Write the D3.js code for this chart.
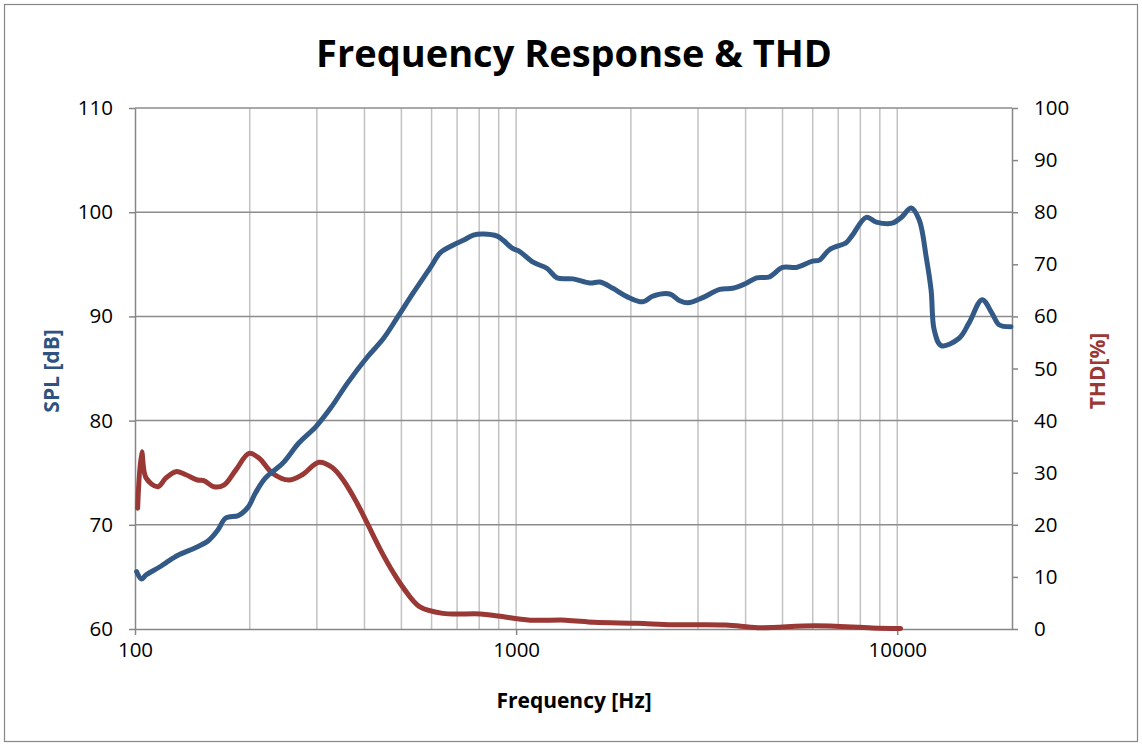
<!DOCTYPE html>
<html>
<head>
<meta charset="utf-8">
<script src="https://cdn.jsdelivr.net/npm/d3@7"></script>
<style>
  body { margin: 0; background: #fff; }
  text { font-family: 'Open Sans', sans-serif; }
</style>
</head>
<body>
<div id="chart"></div>
<script>
// SPL curve (Hz, dB)
const splFreq = [101, 104, 107, 116, 121, 130, 144, 156, 165, 173, 187, 198, 207, 220, 244, 269, 298, 326, 361, 407, 449, 488, 538, 596, 632, 684, 727, 772, 820, 892, 925, 976, 1024, 1108, 1206, 1280, 1410, 1562, 1660, 1794, 1953, 2150, 2284, 2530, 2688, 2821, 3087, 3420, 3700, 4025, 4274, 4624, 5000, 5440, 5991, 6248, 6637, 7355, 7625, 8294, 8810, 9703, 10245, 10880, 11420, 11910, 12270, 12500, 13040, 14530, 15440, 16700, 17730, 18490, 19880];
const splDb = [65.5, 64.8, 65.2, 65.95, 66.4, 67.1, 67.8, 68.5, 69.5, 70.65, 70.9, 71.7, 73.05, 74.5, 75.9, 77.85, 79.4, 81.2, 83.6, 86.1, 87.9, 89.9, 92.3, 94.7, 96.1, 96.85, 97.3, 97.8, 97.9, 97.7, 97.3, 96.55, 96.2, 95.2, 94.6, 93.7, 93.6, 93.2, 93.3, 92.7, 91.9, 91.4, 91.95, 92.15, 91.5, 91.3, 91.8, 92.6, 92.7, 93.2, 93.7, 93.8, 94.7, 94.7, 95.3, 95.4, 96.4, 97.1, 97.8, 99.5, 99.05, 98.95, 99.5, 100.4, 99.25, 95.7, 92.5, 88.7, 87.2, 87.9, 89.4, 91.6, 90.3, 89.2, 89.0];

// THD curve (Hz, %)
const thdFreq = [101.6, 104.1, 106.9, 114.7, 120.6, 128, 136, 145.9, 151.5, 161, 171, 183.8, 199.2, 211.5, 229.4, 253.4, 274.8, 303.7, 329.3, 353.1, 382.8, 406.7, 440.6, 477.3, 507, 558, 642, 805, 897, 1088, 1349, 1603, 2075, 2574, 3554, 4316, 6089, 8598, 10206];
const thdPct = [23.2, 34.0, 29.0, 27.3, 29.0, 30.2, 29.6, 28.6, 28.5, 27.3, 27.6, 30.5, 33.7, 32.8, 29.9, 28.6, 29.6, 32.0, 31.0, 28.4, 24.1, 20.3, 15.2, 10.7, 7.8, 4.3, 3.0, 2.9, 2.5, 1.7, 1.7, 1.3, 1.1, 0.83, 0.77, 0.26, 0.64, 0.2, 0.1];

const xMajor = [100, 1000, 10000];
const xGrid = [200, 300, 400, 500, 600, 700, 800, 900, 1000, 2000, 3000, 4000, 5000, 6000, 7000, 8000, 9000, 10000];
const splTicks = [60, 70, 80, 90, 100, 110];
const thdTicks = [0, 10, 20, 30, 40, 50, 60, 70, 80, 90, 100];

const W = 1142, H = 746;
const m = {left: 135, right: 1012, top: 108, bottom: 629};
const blue = '#335a86', red = '#993835';
const axisGray = '#868686';

const svg = d3.select('#chart').append('svg')
  .attr('width', W).attr('height', H);

svg.append('rect')
  .attr('x', 4.5).attr('y', 4.5)
  .attr('width', W - 9).attr('height', H - 9)
  .attr('fill', '#fff').attr('stroke', axisGray).attr('stroke-width', 1.2);

const x = d3.scaleLog().domain([100, 20000]).range([m.left, m.right]);
const y = d3.scaleLinear().domain([60, 110]).range([m.bottom, m.top]);
const y2 = d3.scaleLinear().domain([0, 100]).range([m.bottom, m.top]);

// vertical grid
svg.append('g').selectAll('line').data(xGrid).enter().append('line')
  .attr('x1', d => x(d)).attr('x2', d => x(d))
  .attr('y1', m.top).attr('y2', m.bottom)
  .attr('stroke', '#c2c2c2').attr('stroke-width', 1.5);

// horizontal grid
svg.append('g').selectAll('line').data(splTicks.slice(1)).enter().append('line')
  .attr('x1', m.left).attr('x2', m.right)
  .attr('y1', d => y(d)).attr('y2', d => y(d))
  .attr('stroke', '#8c8c8c').attr('stroke-width', 1.5);

// axes
const gx = svg.append('g').attr('transform', `translate(0,${m.bottom})`)
  .call(d3.axisBottom(x).tickValues(xMajor).tickFormat(d3.format('d'))
    .tickSize(6).tickSizeOuter(0).tickPadding(5));
const gl = svg.append('g').attr('transform', `translate(${m.left},0)`)
  .call(d3.axisLeft(y).tickValues(splTicks).tickSize(6).tickSizeOuter(0).tickPadding(16));
const gr = svg.append('g').attr('transform', `translate(${m.right},0)`)
  .call(d3.axisRight(y2).tickValues(thdTicks).tickSize(6).tickSizeOuter(0).tickPadding(16));

[gx, gl, gr].forEach(g => {
  g.select('.domain').attr('stroke', axisGray).attr('stroke-width', 1.5);
  g.selectAll('.tick line').attr('stroke', axisGray).attr('stroke-width', 1.5);
  g.selectAll('.tick text').attr('fill', '#000')
    .style('font-family', "'Open Sans', sans-serif").style('font-size', '20.5px');
});
gx.selectAll('.tick text').attr('dy', '0.85em');

// curves
const line = d3.line().curve(d3.curveCatmullRom.alpha(0.5));

svg.append('path')
  .attr('d', line(thdFreq.map((f, i) => [x(f), y2(thdPct[i])])))
  .attr('fill', 'none').attr('stroke', red).attr('stroke-width', 5)
  .attr('stroke-linejoin', 'round').attr('stroke-linecap', 'round');

svg.append('path')
  .attr('d', line(splFreq.map((f, i) => [x(f), y(splDb[i])])))
  .attr('fill', 'none').attr('stroke', blue).attr('stroke-width', 5)
  .attr('stroke-linejoin', 'round').attr('stroke-linecap', 'round');

// titles
svg.append('text')
  .attr('x', 574).attr('y', 67)
  .attr('text-anchor', 'middle')
  .style('font-size', '38px').style('font-weight', 'bold')
  .text('Frequency Response & THD');

svg.append('text')
  .attr('x', 574).attr('y', 708)
  .attr('text-anchor', 'middle')
  .style('font-size', '21px').style('font-weight', 'bold')
  .text('Frequency [Hz]');

svg.append('text')
  .attr('transform', 'translate(59,371) rotate(-90)')
  .attr('text-anchor', 'middle')
  .attr('fill', '#2f5381')
  .style('font-size', '21px').style('font-weight', 'bold')
  .text('SPL [dB]');

svg.append('text')
  .attr('transform', 'translate(1105,371) rotate(-90)')
  .attr('text-anchor', 'middle')
  .attr('fill', red)
  .style('font-size', '21px').style('font-weight', 'bold')
  .text('THD[%]');
</script>
</body>
</html>
